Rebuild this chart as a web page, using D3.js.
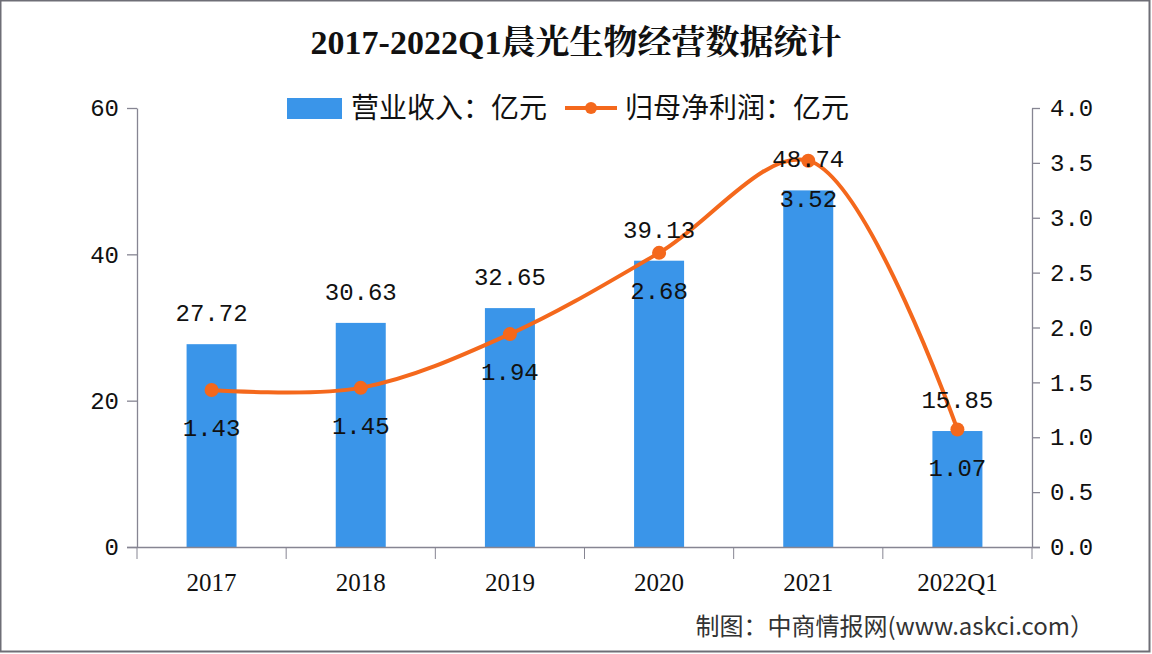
<!DOCTYPE html>
<html>
<head>
<meta charset="utf-8">
<script src="https://cdn.jsdelivr.net/npm/d3@7"></script>
<style>
  body { margin: 0; background: #fff; }
  svg { display: block; }
</style>
</head>
<body>
<script>
// data
const years = ['2017', '2018', '2019', '2020', '2021', '2022Q1'];
const revenue = [27.72, 30.63, 32.65, 39.13, 48.74, 15.85];   // 营业收入：亿元
const profit = [1.43, 1.45, 1.94, 2.68, 3.52, 1.07];          // 归母净利润：亿元
const leftTicks = [0, 20, 40, 60];
const rightTicks = [0, 0.5, 1, 1.5, 2, 2.5, 3, 3.5, 4];

const width = 1152;
const height = 654;
const plotLeft = 137, plotRight = 1032, plotTop = 108, plotBottom = 547;

const numFont = '"Liberation Mono", "DejaVu Sans Mono", monospace';
const cjkFont = '"Noto Sans CJK SC", sans-serif';
const blue = '#3a95e9';
const orange = '#f4681c';
const axisColor = '#868592';

const data = years.map((y, i) => ({ year: y, rev: revenue[i], pro: profit[i] }));

const svg = d3.select('body').append('svg')
    .attr('width', width)
    .attr('height', height);

// frame
svg.append('rect')
    .attr('x', 0.5).attr('y', 0.5)
    .attr('width', 1149).attr('height', 651)
    .attr('fill', '#fff')
    .attr('stroke', '#6e6e76')
    .attr('stroke-width', 2);

//scales
const x = d3.scaleBand().domain(years).range([plotLeft, plotRight]);
const yL = d3.scaleLinear().domain([0, 60]).range([plotBottom, plotTop]);
const yR = d3.scaleLinear().domain([0, 4]).range([plotBottom, plotTop]);

//title
svg.append('text')
    .attr('x', width / 2)
    .attr('y', 54)
    .attr('text-anchor', 'middle')
    .style('font-family', '"Liberation Serif", "Noto Serif CJK SC", "Noto Sans CJK SC", serif')
    .style('font-size', '34px')
    .style('font-weight', 'bold')
    .attr('fill', '#111')
    .text('2017-2022Q1晨光生物经营数据统计');

//legend
const lg = svg.append('g');
lg.append('rect')
    .attr('x', 287).attr('y', 98)
    .attr('width', 55).attr('height', 21)
    .attr('fill', blue);
lg.append('text')
    .attr('x', 351).attr('y', 118)
    .style('font-family', cjkFont)
    .style('font-size', '28px')
    .attr('fill', '#111')
    .text('营业收入：亿元');
lg.append('line')
    .attr('x1', 565).attr('x2', 617)
    .attr('y1', 108).attr('y2', 108)
    .attr('stroke', orange).attr('stroke-width', 4);
lg.append('circle')
    .attr('cx', 591).attr('cy', 108).attr('r', 6)
    .attr('fill', orange);
lg.append('text')
    .attr('x', 625).attr('y', 118)
    .style('font-family', cjkFont)
    .style('font-size', '28px')
    .attr('fill', '#111')
    .text('归母净利润：亿元');

//bars
svg.selectAll('rect.bar')
    .data(data)
    .enter()
    .append('rect')
        .attr('class', 'bar')
        .attr('x', d => x(d.year) + x.bandwidth() / 2 - 25)
        .attr('y', d => yL(d.rev))
        .attr('width', 50)
        .attr('height', d => yL(0) - yL(d.rev))
        .attr('fill', blue);

//left axis
const axL = svg.append('g')
    .attr('transform', `translate(${plotLeft},0)`)
    .call(d3.axisLeft(yL).tickValues(leftTicks).tickSize(10).tickPadding(8).tickSizeOuter(0));

//right axis
const axR = svg.append('g')
    .attr('transform', `translate(${plotRight},0)`)
    .call(d3.axisRight(yR).tickValues(rightTicks).tickSize(8).tickPadding(10)
        .tickFormat(d3.format('.1f')).tickSizeOuter(0));

//x axis
const axX = svg.append('g')
    .attr('transform', `translate(0,${plotBottom})`)
    .call(d3.axisBottom(x).tickSize(0).tickPadding(26).tickSizeOuter(0));
axX.select('.domain').attr('d', `M${plotLeft - 10},0.5H${plotRight + 8}`);
axX.selectAll('line.sep')
    .data(years.concat(['end']))
    .enter()
    .append('line')
        .attr('class', 'sep')
        .attr('x1', (d, i) => i < years.length ? x(d) : plotRight)
        .attr('x2', (d, i) => i < years.length ? x(d) : plotRight)
        .attr('y1', 0).attr('y2', 12)
        .attr('stroke', axisColor);

[axL, axR, axX].forEach(g => {
    g.selectAll('.domain, .tick line').attr('stroke', axisColor).attr('stroke-width', 1.3);
});
axL.selectAll('text').style('font-family', numFont).style('font-size', '24px').attr('fill', '#111');
axR.selectAll('text').style('font-family', numFont).style('font-size', '24px').attr('fill', '#111');
axX.selectAll('text')
    .style('font-family', '"Liberation Serif", serif')
    .style('font-size', '25px')
    .attr('fill', '#111');

//line
const line = d3.line()
    .x(d => x(d.year) + x.bandwidth() / 2)
    .y(d => yR(d.pro))
    .curve(d3.curveCatmullRom);

svg.append('path')
    .datum(data)
    .attr('d', line)
    .attr('fill', 'none')
    .attr('stroke', orange)
    .attr('stroke-width', 4);

svg.selectAll('circle.pt')
    .data(data)
    .enter()
    .append('circle')
        .attr('class', 'pt')
        .attr('cx', d => x(d.year) + x.bandwidth() / 2)
        .attr('cy', d => yR(d.pro))
        .attr('r', 7)
        .attr('fill', orange);

//bar labels
svg.selectAll('text.revlab')
    .data(data)
    .enter()
    .append('text')
        .attr('class', 'revlab')
        .attr('x', d => x(d.year) + x.bandwidth() / 2)
        .attr('y', d => yL(d.rev) - 23)
        .attr('text-anchor', 'middle')
        .style('font-family', numFont)
        .style('font-size', '24px')
        .attr('fill', '#111')
        .text(d => d.rev.toFixed(2));

//line labels
svg.selectAll('text.prolab')
    .data(data)
    .enter()
    .append('text')
        .attr('class', 'prolab')
        .attr('x', d => x(d.year) + x.bandwidth() / 2)
        .attr('y', d => yR(d.pro) + 46)
        .attr('text-anchor', 'middle')
        .style('font-family', numFont)
        .style('font-size', '24px')
        .attr('fill', '#111')
        .text(d => d.pro.toFixed(2));

//source
svg.append('text')
    .attr('x', 1094)
    .attr('y', 635)
    .attr('text-anchor', 'end')
    .style('font-family', cjkFont)
    .style('font-size', '24px')
    .attr('fill', '#333')
    .text('制图：中商情报网(www.askci.com）');
</script>
</body>
</html>
